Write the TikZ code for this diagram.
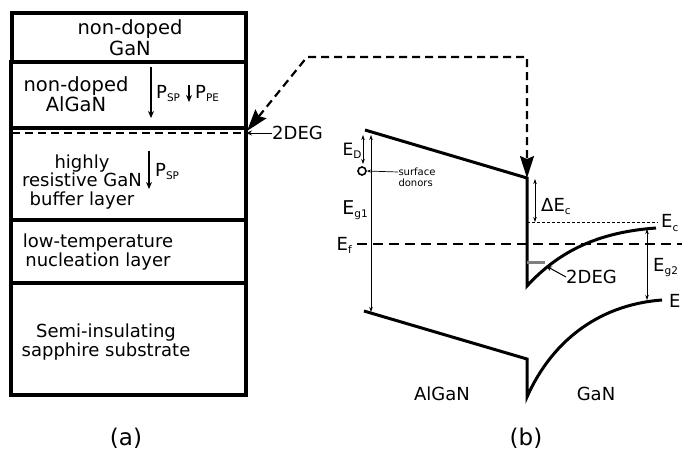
\documentclass[tikz,border=0pt]{standalone}
\usepackage{fontspec}
\setmainfont{DejaVu Sans}
\usetikzlibrary{arrows.meta}
\newcommand{\lsub}[1]{\raisebox{-0.35ex}{\fontsize{10.5}{10.5}\selectfont #1}}
\begin{document}
\begin{tikzpicture}[x=1pt,y=-1pt,
  layer/.style={draw, line width=4pt, inner sep=0pt},
  txt/.style={font=\fontsize{18}{21}\selectfont, inner sep=0pt, align=center},
  small/.style={font=\fontsize{10}{11}\selectfont, inner sep=0pt, align=left},
  band/.style={line width=3pt, line join=miter},
  bigdash/.style={line width=2.2pt, dash pattern=on 8pt off 5pt},
  efdash/.style={line width=2pt, dash pattern=on 10pt off 6pt},
  polar/.style={line width=1.2pt, -{Stealth[length=7pt, width=6pt]}},
  dim/.style={line width=0.7pt, {Stealth[length=5pt, width=3.5pt]}-{Stealth[length=5pt, width=3.5pt]}},
  pointer/.style={line width=0.8pt, -{Stealth[length=6pt, width=5pt]}},
  caption/.style={font=\fontsize{23}{26}\selectfont, inner sep=0pt}
]
\useasboundingbox (0,0) rectangle (682,450);

% ---------- (a) layer stack ----------
\node[layer, minimum width=234pt, minimum height=49pt] (top) at (129,37.5) {};
\node[layer, minimum width=235pt, minimum height=66pt] (algan) at (128.5,95) {};
\node[layer, minimum width=235pt, minimum height=92pt] (buffer) at (128.5,174) {};
\node[layer, minimum width=235pt, minimum height=63pt] (nucl) at (128.5,251.5) {};
\node[layer, minimum width=235pt, minimum height=112pt] (subs) at (128.5,339) {};

\node[txt, font=\fontsize{19.5}{21}\selectfont] (ttop) at (130,38) {non-doped\\GaN};
\node[txt, font=\fontsize{19.5}{18}\selectfont] (talgan) at (76,94) {non-doped\\AlGaN};
\node[txt, font=\fontsize{18}{18.5}\selectfont] (tbuf) at (82,182) {highly\\resistive GaN\\buffer layer};
\node[txt, font=\fontsize{18}{19}\selectfont] (tnucl) at (98,252) {low-temperature\\nucleation layer};
\node[txt, font=\fontsize{18}{19}\selectfont] (tsubs) at (106,342) {Semi-insulating\\sapphire substrate};

% polarization arrows
\coordinate (p1a) at (151,67);  \coordinate (p1b) at (151,118);
\coordinate (p2a) at (189,85);  \coordinate (p2b) at (189,102);
\coordinate (p3a) at (149,151); \coordinate (p3b) at (149,189);
\draw[polar] (p1a) -- (p1b);
\draw[polar] (p2a) -- (p2b);
\draw[polar] (p3a) -- (p3b);
\node[txt, anchor=base west] (lp1) at (156,98) {P\lsub{SP}};
\node[txt, anchor=base west] (lp2) at (195,98) {P\lsub{PE}};
\node[txt, anchor=base west] (lp3) at (155,176) {P\lsub{SP}};

% 2DEG dashed line in the stack
\coordinate (dl) at (12,133);
\coordinate (dr) at (246,133);
\draw[bigdash] (dl) -- (dr);
\node[txt, anchor=west] (l2dega) at (272,133) {2DEG};
\draw[pointer] (l2dega.west) -- (dr);

\node[caption] (capa) at (126,438) {(a)};

% ---------- (b) band diagram ----------
\coordinate (cbL) at (365,130);
\coordinate (cbR) at (527,178);
\coordinate (notch) at (527,286);
\coordinate (cbE) at (656,228);
\coordinate (vbL) at (364,311);
\coordinate (vbR) at (527,359);
\coordinate (vbB) at (527,397);
\coordinate (vbE) at (662,300);

\draw[band] (cbL) -- (cbR) -- (notch) .. controls (560,250) and (600,232) .. (cbE);
\draw[band] (vbL) -- (vbR) -- (vbB) .. controls (550,345) and (595,305) .. (vbE);

% dashed link between (a) and (b)
\coordinate (bend1) at (307,57);
\coordinate (bend2) at (527,57);
\coordinate (tipL) at (247,131);
\draw[bigdash, {Stealth[length=22pt, width=14pt, inset=3pt]}-{Stealth[length=22pt, width=14pt, inset=3pt]}]
  (tipL) -- (bend1) -- (bend2) -- (cbR);

% Ec dotted and Ef dashed
\coordinate (ecL) at (527,222);
\coordinate (ecR) at (658,222);
\draw[line width=0.8pt, dash pattern=on 3pt off 2pt] (ecL) -- (ecR);
\node[txt, anchor=west] (lec) at (661,223) {E\lsub{c}};

\node[txt, anchor=base east] (lef) at (352,250) {E\lsub{f}};
\coordinate (efL) at (357,244);
\coordinate (efR) at (682,244);
\draw[efdash] (efL) -- (efR);

% dimension arrows
\coordinate (eg1t) at (371,135); \coordinate (eg1b) at (371,312);
\draw[dim] (eg1t) -- (eg1b);
\node[txt, anchor=base, font=\fontsize{19}{21}\selectfont] (leg1) at (355,214) {E\lsub{g1}};

\coordinate (edt) at (363,135); \coordinate (edb) at (363,164);
\draw[dim] (edt) -- (edb);
\node[txt, anchor=base, font=\fontsize{17}{20}\selectfont] (led) at (352,155) {E\lsub{D}};

\node[draw, circle, line width=1.6pt, minimum size=8pt, inner sep=0pt] (donor) at (362,171) {};
\node[small] (lsd) at (417,177) {surface\\donors};
\coordinate (sdstart) at (398,172);
\draw[line width=0.7pt, -{Stealth[length=4pt, width=3pt]}] (sdstart) -- (donor.east);

\coordinate (dect) at (535,179); \coordinate (decb) at (535,222);
\draw[dim] (dect) -- (decb);
\node[txt, anchor=base west] (ldec) at (541,211) {ΔE\lsub{c}};

\coordinate (eg2t) at (647,229); \coordinate (eg2b) at (647,300);
\draw[dim] (eg2t) -- (eg2b);
\node[txt, anchor=base west] (leg2) at (653,271) {E\lsub{g2}};

\node[txt, anchor=west] (lev) at (669,301) {E};

% 2DEG in the well
\coordinate (g1) at (527,262);
\coordinate (g2) at (545,262);
\draw[line width=3pt, gray] (g1) -- (g2);
\node[txt, anchor=west] (l2degb) at (566,277) {2DEG};
\coordinate (g2tip) at (546,266);
\draw[pointer, line width=1pt] (l2degb.west) -- (g2tip);

\node[txt] (lalgan) at (442,394) {AlGaN};
\node[txt] (lgan) at (596,394) {GaN};
\node[caption] (capb) at (526,438) {(b)};
\end{tikzpicture}
\end{document}
